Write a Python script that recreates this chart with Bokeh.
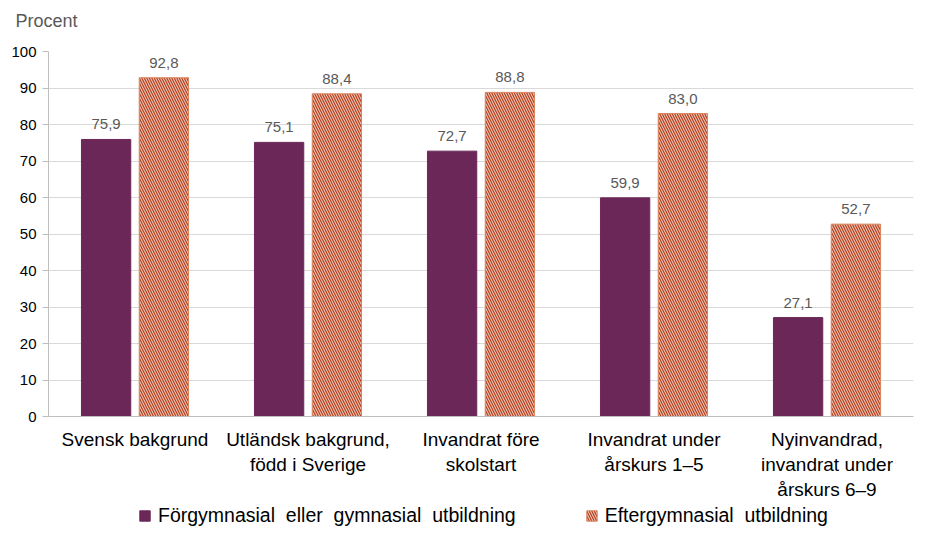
from bokeh.plotting import figure
from bokeh.models import (Range1d, ColumnDataSource, LabelSet, Label, Legend, LegendItem, FixedTicker)
from bokeh.layouts import column
from bokeh.core.properties import value
from bokeh.embed import file_html
from bokeh.resources import INLINE

categories = ["Svensk bakgrund", "Utländsk bakgrund,\nfödd i Sverige", "Invandrat före\nskolstart",
              "Invandrat under\nårskurs 1–5", "Nyinvandrad,\ninvandrat under\nårskurs 6–9"]
forgymn = [75.9, 75.1, 72.7, 59.9, 27.1]
eftergymn = [92.8, 88.4, 88.8, 83.0, 52.7]
series_names = ["Förgymnasial  eller  gymnasial  utbildning", "Eftergymnasial  utbildning"]
y_ticks = [0, 10, 20, 30, 40, 50, 60, 70, 80, 90, 100]
y_title = "Procent"

centers = [i + 0.5 for i in range(len(categories))]
off = 0.167
bw = 0.285
FONT = "Liberation Sans"
W = 914
LEFT = 48

def fmt(v):
    return f"{v:.1f}".replace(".", ",")

src1 = ColumnDataSource(dict(x=[c - off for c in centers], top=forgymn, lab=[fmt(v) for v in forgymn]))
src2 = ColumnDataSource(dict(x=[c + off for c in centers], top=eftergymn, lab=[fmt(v) for v in eftergymn]))

purple = "#6B2757"
orange = "#B9431E"
bar1_style = dict(fill_color=purple, line_color=purple)
bar2_style = dict(fill_color=orange, line_color="#DA8560", hatch_pattern="\\", hatch_color="white",
                  hatch_scale=5, hatch_weight=0.8, hatch_alpha=1.0)

def strip(h):
    f = figure(width=W, height=h, output_backend="svg", toolbar_location=None,
               x_range=Range1d(0, W), y_range=Range1d(0, h), x_axis_type=None, y_axis_type=None,
               min_border_left=0, min_border_right=0, min_border_top=0, min_border_bottom=0)
    f.outline_line_color = None
    f.xgrid.grid_line_color = None
    f.ygrid.grid_line_color = None
    unaligned = False
    if "frame_align" in f.properties():
        f.frame_align = False
        unaligned = True
    return f, (0 if unaligned else LEFT)

# top strip with the axis title
tf, shift_t = strip(41)
tf.add_layout(Label(x=15 - shift_t, y=21, text=y_title, text_font=FONT, text_font_size="18px",
                    text_color="#595959", text_baseline="middle", text_align="left"))

p = figure(width=W, height=463, output_backend="svg", toolbar_location=None,
           x_range=Range1d(0, 5), y_range=Range1d(0, 100),
           min_border_left=LEFT, min_border_right=1, min_border_top=10, min_border_bottom=88)

r1 = p.vbar(x="x", top="top", width=bw, source=src1, **bar1_style)
r2 = p.vbar(x="x", top="top", width=bw, source=src2, **bar2_style)

for s in (src1, src2):
    p.add_layout(LabelSet(x="x", y="top", text="lab", source=s, y_offset=10, text_align="center",
                          text_baseline="bottom", text_font=value(FONT), text_font_size=value("15px"),
                          text_color="#595959"))

p.xaxis.ticker = FixedTicker(ticks=centers)
p.xaxis.major_label_overrides = {c: lab for c, lab in zip(centers, categories)}
p.xaxis.major_label_text_font = FONT
p.xaxis.major_label_text_font_size = "19px"
p.xaxis.major_label_text_color = "black"
p.xaxis.major_label_standoff = 6
p.xaxis.major_tick_line_color = None
p.xaxis.minor_tick_line_color = None
p.xaxis.axis_line_color = "#BFBFBF"

p.yaxis.ticker = FixedTicker(ticks=y_ticks)
p.yaxis.major_label_text_font = FONT
p.yaxis.major_label_text_font_size = "15px"
p.yaxis.major_label_text_color = "black"
p.yaxis.major_tick_in = 0
p.yaxis.major_tick_out = 6
p.yaxis.major_tick_line_color = "#BFBFBF"
p.yaxis.minor_tick_line_color = None
p.yaxis.axis_line_color = "#BFBFBF"
p.yaxis.major_label_standoff = 6

p.xgrid.grid_line_color = None
p.ygrid.grid_line_color = "#D9D9D9"
p.outline_line_color = None

# legend strip below the chart (legend items for hidden sample bars)
lf, shift_l = strip(24)
dsrc = ColumnDataSource(dict(x=[W / 2], top=[12]))
d1 = lf.vbar(x="x", top="top", width=1, source=dsrc, **bar1_style)
d2 = lf.vbar(x="x", top="top", width=1, source=dsrc, **bar2_style)
d1.visible = False
d2.visible = False
legend = Legend(items=[LegendItem(label=series_names[0], renderers=[d1]),
                       LegendItem(label=series_names[1], renderers=[d2])],
                orientation="horizontal", location=(138 - shift_l, 1),
                label_text_font=FONT, label_text_font_size="19.5px", label_standoff=7,
                label_text_color="black", glyph_width=13, glyph_height=13,
                spacing=69, border_line_color=None, background_fill_alpha=0, padding=0, margin=0,
                inactive_fill_alpha=0)
lf.add_layout(legend)

layout = column(tf, p, lf, spacing=0)
open("out.html", "w").write(file_html(layout, INLINE))
